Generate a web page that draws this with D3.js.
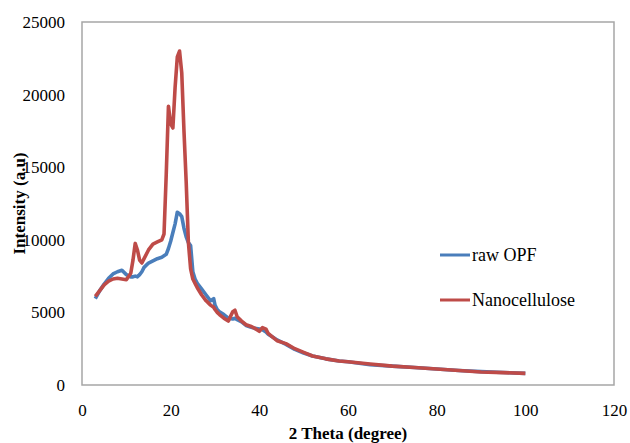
<!DOCTYPE html>
<html>
<head>
<meta charset="utf-8">
<script src="https://cdn.jsdelivr.net/npm/d3@7"></script>
<style>
  body { margin: 0; background: #fff; }
  svg { display: block; font-family: "Liberation Serif", "Times New Roman", serif; }
</style>
</head>
<body>
<div id="chart"></div>
<script>
// 2 theta positions (degree), shared by both patterns
const twoTheta = [3, 4, 5, 6, 7, 8, 9, 10, 11, 11.5, 12, 12.5, 13, 13.5, 14, 15, 16, 17, 18, 18.5,
  19, 19.5, 20, 20.5, 21, 21.5, 22, 22.5, 23, 23.5, 24, 24.5, 25, 25.5, 26, 27, 28, 29, 29.7, 30,
  30.5, 31, 32, 33, 34, 34.5, 35, 36, 37, 38, 39, 40, 40.7, 41.5, 42, 43, 44, 46, 48, 50,
  52, 55, 58, 60, 65, 70, 75, 80, 85, 90, 95, 100];

const rawOPF = [5950, 6500, 6950, 7350, 7650, 7800, 7900, 7600, 7450, 7450, 7500, 7450, 7600, 7800, 8100, 8400, 8550, 8700, 8800, 8900,
  9000, 9400, 9900, 10500, 11100, 11900, 11800, 11600, 10800, 10200, 9800, 9600, 7800, 7300, 7000, 6600, 6200, 5800, 5950, 5500,
  5200, 5050, 4850, 4600, 4550, 4600, 4500, 4350, 4100, 4000, 3900, 3850, 3800, 3650, 3500, 3300, 3100, 2800, 2450, 2200,
  2000, 1800, 1650, 1600, 1400, 1300, 1200, 1100, 1000, 920, 860, 800];

const nanocellulose = [6100, 6500, 6900, 7150, 7300, 7350, 7300, 7250, 7700, 8600, 9750, 9300, 8600, 8400, 8700, 9300, 9700, 9850, 10000, 10400,
  14500, 19200, 18000, 17700, 20500, 22600, 23000, 21500, 17500, 14000, 9800, 8000, 7300, 7000, 6700, 6200, 5800, 5500, 5350, 5200,
  5000, 4850, 4600, 4400, 5050, 5150, 4700, 4400, 4150, 4050, 3900, 3700, 3950, 3850, 3550, 3300, 3050, 2850, 2500, 2250,
  2000, 1800, 1650, 1600, 1450, 1300, 1200, 1100, 1000, 900, 850, 800];

const xTicks = [0, 20, 40, 60, 80, 100, 120];
const yTicks = [0, 5000, 10000, 15000, 20000, 25000];
const seriesNames = ["raw OPF", "Nanocellulose"];
const seriesColors = ["#4a7ebb", "#be4b48"];

const width = 630;
const height = 443;
const margin = { top: 22, right: 16, bottom: 58, left: 82 };

const x = d3.scaleLinear().domain([0, 120]).range([margin.left, width - margin.right]);
const y = d3.scaleLinear().domain([0, 25000]).range([height - margin.bottom, margin.top]);

const svg = d3.select("#chart")
  .append("svg")
  .attr("width", width)
  .attr("height", height);

// plot area frame
svg.append("rect")
  .attr("x", x(0))
  .attr("y", y(25000))
  .attr("width", x(120) - x(0))
  .attr("height", y(0) - y(25000))
  .attr("fill", "none")
  .attr("stroke", "#a6a6a6")
  .attr("stroke-width", 1.5);

// x axis labels (no tick marks)
const xAxis = svg.append("g")
  .attr("transform", `translate(0, ${y(0)})`)
  .call(d3.axisBottom(x).tickValues(xTicks).tickSize(0).tickPadding(19));
xAxis.select(".domain").remove();
xAxis.selectAll("text")
  .style("font-family", "'Liberation Serif', serif")
  .attr("font-size", 17)
  .attr("fill", "#000");

// y axis labels
const yAxis = svg.append("g")
  .attr("transform", `translate(${x(0)}, 0)`)
  .call(d3.axisLeft(y).tickValues(yTicks).tickSize(0).tickPadding(17).tickFormat(d3.format("d")));
yAxis.select(".domain").remove();
yAxis.selectAll("text")
  .style("font-family", "'Liberation Serif', serif")
  .attr("font-size", 17)
  .attr("fill", "#000");

// the two diffraction patterns
const series = [rawOPF, nanocellulose];
const line = d3.line()
  .x((d, i) => x(twoTheta[i]))
  .y(d => y(d));

svg.selectAll(".pattern")
  .data(series)
  .join("path")
  .attr("class", "pattern")
  .attr("d", d => line(d))
  .attr("fill", "none")
  .attr("stroke", (d, i) => seriesColors[i])
  .attr("stroke-width", 3.6)
  .attr("stroke-linejoin", "round");

// axis titles
svg.append("text")
  .attr("x", (x(0) + x(120)) / 2)
  .attr("y", 439)
  .attr("text-anchor", "middle")
  .attr("font-size", 17)
  .attr("font-weight", "bold")
  .text("2 Theta (degree)");

svg.append("text")
  .attr("transform", `translate(25, ${(y(0) + y(25000)) / 2}) rotate(-90)`)
  .attr("text-anchor", "middle")
  .attr("font-size", 17)
  .attr("font-weight", "bold")
  .text("Intensity (a.u)");

// legend
const legend = svg.selectAll(".legend")
  .data(seriesNames)
  .join("g")
  .attr("class", "legend")
  .attr("transform", (d, i) => `translate(440, ${255 + i * 45})`);

legend.append("line")
  .attr("x1", 0)
  .attr("x2", 30)
  .attr("stroke", (d, i) => seriesColors[i])
  .attr("stroke-width", 3);

legend.append("text")
  .attr("x", 32)
  .attr("y", 6)
  .attr("font-size", 18)
  .text(d => d);
</script>
</body>
</html>
